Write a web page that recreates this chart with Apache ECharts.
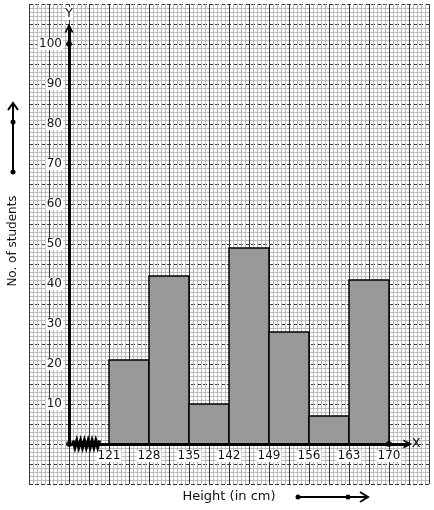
<!DOCTYPE html>
<html>
<head>
<meta charset="utf-8">
<script src="https://cdn.jsdelivr.net/npm/echarts@6/dist/echarts.min.js"></script>
<style>
html, body { margin: 0; padding: 0; background: #fff; }
#main { width: 434px; height: 510px; }
</style>
</head>
<body>
<div id="main"></div>
<script>
// class intervals (height in cm) and number of students
const classStart = [121, 128, 135, 142, 149, 156, 163];
const classEnd = [128, 135, 142, 149, 156, 163, 170];
const students = [21, 42, 10, 49, 28, 7, 41];
const xTicks = [121, 128, 135, 142, 149, 156, 163, 170];
const yTicks = [10, 20, 30, 40, 50, 60, 70, 80, 90, 100];
const axisDots = [[114, 0], [114, 100], [170, 0]];

const FONT = 'DejaVu Sans';
// open arrow head, pointing up (echarts turns it along the axis)
const CHEVRON = 'path://M0,10 L5,0 L10,10 L8,10 L5,4 L2,10 Z';

const histData = classStart.map((s, i) => [s, classEnd[i], students[i]]);

const myChart = echarts.init(document.getElementById('main'));

myChart.setOption({
  animation: false,
  backgroundColor: '#fff',
  grid: [
    // axes + bars: 40px per class of 7 cm, 4px per student
    { left: 69, top: 28, width: 59.3 * 40 / 7, height: 416 },
    // graph paper
    { left: 29, top: 4, width: 400, height: 480 },
  ],
  xAxis: [
    {
      gridIndex: 0,
      type: 'value',
      min: 114,
      max: 173.3,
      z: 5,
      name: 'X',
      nameLocation: 'end',
      nameGap: 4,
      nameTextStyle: { fontFamily: FONT, fontSize: 13, color: '#111' },
      axisLine: {
        show: true,
        onZero: false,
        lineStyle: { color: '#000', width: 3 },
        symbol: ['none', CHEVRON],
        symbolSize: [10, 9],
      },
      axisTick: { show: false },
      splitLine: { show: false },
      axisLabel: {
        customValues: xTicks,
        margin: 6,
        fontFamily: FONT,
        fontSize: 12,
        color: '#111',
        backgroundColor: '#fff',
        padding: [0, 1],
      },
    },
    {
      gridIndex: 1,
      type: 'value',
      min: 0,
      max: 100,
      interval: 5,
      axisLine: { show: false },
      axisTick: { show: false },
      axisLabel: { show: false },
      splitLine: { show: true, lineStyle: { color: '#383838', width: 1 } },
      minorTick: { show: false, splitNumber: 5 },
      minorSplitLine: { show: true, lineStyle: { color: '#bdbdbd', width: 1 } },
    },
  ],
  yAxis: [
    {
      gridIndex: 0,
      type: 'value',
      min: 0,
      max: 104,
      z: 5,
      name: 'Y',
      nameLocation: 'end',
      nameGap: 8,
      nameTextStyle: { fontFamily: FONT, fontSize: 13, color: '#111', backgroundColor: '#fff' },
      axisLine: {
        show: true,
        onZero: false,
        lineStyle: { color: '#000', width: 3 },
        symbol: ['none', CHEVRON],
        symbolSize: [10, 9],
      },
      axisTick: { show: false },
      splitLine: { show: false },
      axisLabel: {
        customValues: yTicks,
        margin: 6,
        fontFamily: FONT,
        fontSize: 12,
        color: '#111',
        backgroundColor: '#fff',
        padding: [0, 1],
      },
    },
    {
      gridIndex: 1,
      type: 'value',
      min: 0,
      max: 120,
      interval: 5,
      axisLine: { show: false },
      axisTick: { show: false },
      axisLabel: { show: false },
      splitLine: { show: true, lineStyle: { color: '#383838', width: 1, type: [4, 2] } },
      minorTick: { show: false, splitNumber: 5 },
      minorSplitLine: { show: true, lineStyle: { color: '#bdbdbd', width: 1 } },
    },
  ],
  series: [
    {
      type: 'custom',
      xAxisIndex: 0,
      yAxisIndex: 0,
      z: 3,
      encode: { x: [0, 1], y: 2 },
      data: histData,
      renderItem: function (params, api) {
        const p0 = api.coord([api.value(0), api.value(2)]);
        const p1 = api.coord([api.value(1), 0]);
        return {
          type: 'rect',
          shape: { x: p0[0], y: p0[1], width: p1[0] - p0[0], height: p1[1] - p0[1] },
          style: { fill: '#999999', stroke: '#000', lineWidth: 1.5 },
        };
      },
    },
    {
      type: 'scatter',
      xAxisIndex: 0,
      yAxisIndex: 0,
      z: 6,
      symbolSize: 6,
      itemStyle: { color: '#000' },
      data: axisDots,
    },
  ],
});

// decorations: kink on the x axis, axis titles with their arrows
const origin = myChart.convertToPixel({ gridIndex: 0 }, [114, 0]);
const kink = [];
for (let i = 0; i <= 14; i++) {
  kink.push([origin[0] + 4 + i * 1.9, origin[1] + (i % 2 ? 3.5 : -3.5)]);
}

myChart.setOption({
  graphic: [
    { type: 'polyline', z: 100, shape: { points: kink }, style: { stroke: '#000', lineWidth: 3, fill: null } },
    {
      type: 'text', z: 100, x: 13, y: 241, rotation: Math.PI / 2,
      style: { text: 'No. of students', font: '12px "DejaVu Sans"', fill: '#111', align: 'center', verticalAlign: 'middle' },
    },
    { type: 'line', z: 100, shape: { x1: 13, y1: 172, x2: 13, y2: 103 }, style: { stroke: '#000', lineWidth: 2 } },
    { type: 'polyline', z: 100, shape: { points: [[8, 110], [13, 103], [18, 110]] }, style: { stroke: '#000', lineWidth: 2, fill: null } },
    { type: 'circle', z: 100, shape: { cx: 13, cy: 172, r: 2.5 }, style: { fill: '#000' } },
    { type: 'circle', z: 100, shape: { cx: 13, cy: 122, r: 2.5 }, style: { fill: '#000' } },
    {
      type: 'text', z: 100, x: 229, y: 497,
      style: { text: 'Height (in cm)', font: '13px "DejaVu Sans"', fill: '#111', align: 'center', verticalAlign: 'middle' },
    },
    { type: 'line', z: 100, shape: { x1: 298, y1: 497, x2: 368, y2: 497 }, style: { stroke: '#000', lineWidth: 2 } },
    { type: 'polyline', z: 100, shape: { points: [[360, 492], [368, 497], [360, 502]] }, style: { stroke: '#000', lineWidth: 2, fill: null } },
    { type: 'circle', z: 100, shape: { cx: 298, cy: 497, r: 2.5 }, style: { fill: '#000' } },
    { type: 'circle', z: 100, shape: { cx: 348, cy: 497, r: 2.5 }, style: { fill: '#000' } },
  ],
});
</script>
</body>
</html>
